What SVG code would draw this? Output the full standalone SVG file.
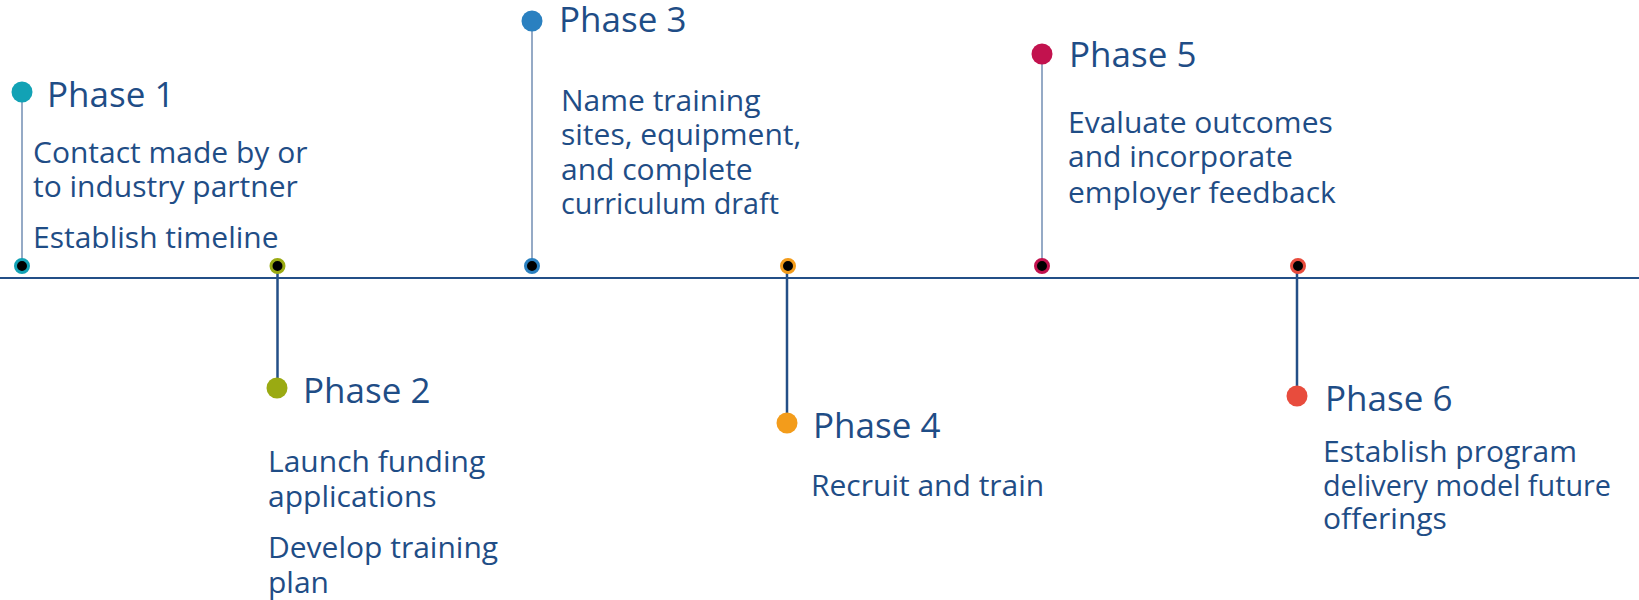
<svg xmlns="http://www.w3.org/2000/svg" width="1639" height="600" viewBox="0 0 1639 600">
  <style>
    .title { font-family: "Open Sans", "Noto Sans", sans-serif; font-size: 35px; fill: #1f4d86; }
    .body { font-family: "Open Sans", "Noto Sans", sans-serif; font-size: 30px; fill: #1f4d86; }
    .stem-up { stroke: #95aac6; stroke-width: 2; }
    .stem-down { stroke: #234f87; stroke-width: 2.5; }
    .axis { stroke: #234f87; stroke-width: 2; }
    .tick { fill: #000; stroke-width: 3; }
  </style>

  <!-- timeline axis and stems -->
  <g id="connectors">
    <line class="axis" x1="0" y1="278" x2="1639" y2="278"/>
    <line class="stem-up" x1="22" y1="92" x2="22" y2="266"/>
    <line class="stem-down" x1="277.5" y1="266" x2="277.5" y2="388"/>
    <line class="stem-up" x1="532" y1="21" x2="532" y2="266"/>
    <line class="stem-down" x1="787" y1="266" x2="787" y2="422"/>
    <line class="stem-up" x1="1042" y1="54" x2="1042" y2="266"/>
    <line class="stem-down" x1="1297" y1="266" x2="1297" y2="396"/>
  </g>

  <g id="phase1">
    <circle cx="22" cy="92" r="10.5" fill="#12a2b5"/>
    <circle class="tick" cx="22" cy="266" r="6.5" stroke="#12a2b5"/>
    <text class="title" x="47" y="107">Phase 1</text>
    <text class="body" x="33" y="163">Contact made by or</text>
    <text class="body" x="33" y="197">to industry partner</text>
    <text class="body" x="33" y="248">Establish timeline</text>
  </g>

  <g id="phase2">
    <circle class="tick" cx="277.5" cy="266" r="6.5" stroke="#9aaa12"/>
    <circle cx="277" cy="388" r="10.5" fill="#9aaa12"/>
    <text class="title" x="303" y="403">Phase 2</text>
    <text class="body" x="268" y="472">Launch funding</text>
    <text class="body" x="268" y="507">applications</text>
    <text class="body" x="268" y="558">Develop training</text>
    <text class="body" x="268" y="593">plan</text>
  </g>

  <g id="phase3">
    <circle cx="532" cy="21" r="10.5" fill="#2a80c0"/>
    <circle class="tick" cx="532" cy="266" r="6.5" stroke="#2a80c0"/>
    <text class="title" x="559" y="32">Phase 3</text>
    <text class="body" x="561" y="111">Name training</text>
    <text class="body" x="561" y="145">sites, equipment,</text>
    <text class="body" x="561" y="180">and complete</text>
    <text class="body" x="561" y="214" textLength="218" lengthAdjust="spacingAndGlyphs">curriculum draft</text>
  </g>

  <g id="phase4">
    <circle class="tick" cx="788" cy="266" r="6.5" stroke="#f39c1b"/>
    <circle cx="787" cy="423" r="10.5" fill="#f39c1b"/>
    <text class="title" x="813" y="438">Phase 4</text>
    <text class="body" x="811" y="496">Recruit and train</text>
  </g>

  <g id="phase5">
    <circle cx="1042" cy="54" r="10.5" fill="#c2124e"/>
    <circle class="tick" cx="1042" cy="266" r="6.5" stroke="#c2124e"/>
    <text class="title" x="1069" y="67">Phase 5</text>
    <text class="body" x="1068" y="133">Evaluate outcomes</text>
    <text class="body" x="1068" y="167">and incorporate</text>
    <text class="body" x="1068" y="203">employer feedback</text>
  </g>

  <g id="phase6">
    <circle class="tick" cx="1298" cy="266" r="6.5" stroke="#e84c3d"/>
    <circle cx="1297" cy="396" r="10.5" fill="#e84c3d"/>
    <text class="title" x="1325" y="411">Phase 6</text>
    <text class="body" x="1323" y="462">Establish program</text>
    <text class="body" x="1323" y="496" textLength="288" lengthAdjust="spacingAndGlyphs">delivery model future</text>
    <text class="body" x="1323" y="529">offerings</text>
  </g>
</svg>
